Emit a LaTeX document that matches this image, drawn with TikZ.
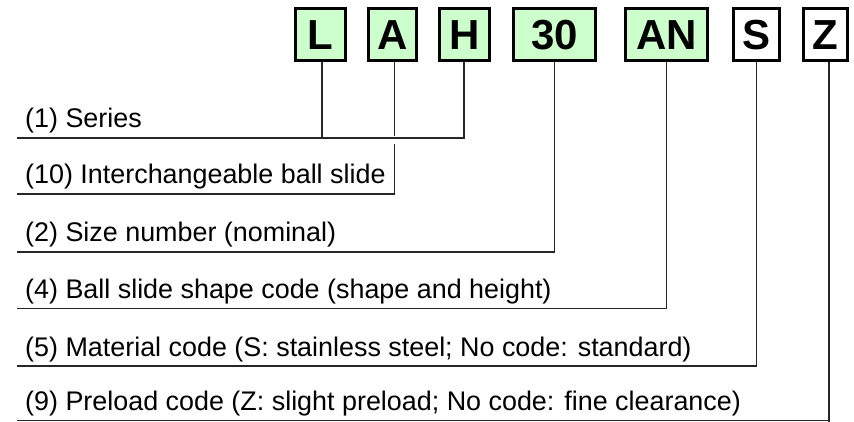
\documentclass[tikz,border=0pt]{standalone}
\usepackage{fontspec}
\setmainfont{Liberation Sans}
\begin{document}
\begin{tikzpicture}[x=1pt,y=-1pt,
  code/.style={draw=black,line width=2.6pt,inner sep=0pt,minimum height=52pt,
    font=\fontsize{42}{42}\selectfont\bfseries,text height=30pt,text depth=0pt},
  gcode/.style={code,fill=green!20},
  wcode/.style={code,fill=white},
  lbl/.style={anchor=base west,inner sep=0pt,font=\fontsize{26.9}{30}\selectfont,text=black},
  ln/.style={draw=black!85,line width=1.4pt}]
\useasboundingbox (0,0) rectangle (854,422);
% code boxes
\node[gcode,minimum width=50.5pt] (L) at (320.5,34.5) {L};
\node[gcode,minimum width=48.5pt] (A) at (392.5,34.5) {A};
\node[gcode,minimum width=50.5pt] (H) at (464.5,34.5) {H};
\node[gcode,minimum width=82.5pt] (N30) at (554.5,34.5) {30};
\node[gcode,minimum width=82.5pt] (AN) at (666.5,34.5) {AN};
\node[wcode,minimum width=46.5pt] (S) at (756.5,34.5) {S};
\node[wcode,minimum width=44.5pt] (Z) at (825.5,34.5) {Z};
% labels
\node[lbl] (t1) at (25,128) {(1) Series};
\node[lbl] (t2) at (25,184) {(10) Interchangeable ball slide};
\node[lbl] (t3) at (25,241.5) {(2) Size number (nominal)};
\node[lbl] (t4) at (25,298.5) {(4) Ball slide shape code (shape and height)};
\node[lbl] (t5) at (25,356) {(5) Material code (S: stainless steel; No code: standard)};
\node[lbl] (t6) at (25,410.5) {(9) Preload code (Z: slight preload; No code: fine clearance)};
% line starts
\coordinate (s1) at (17,138);
\coordinate (s2) at (17,194);
\coordinate (s3) at (17,252);
\coordinate (s4) at (17,308.5);
\coordinate (s5) at (17,366);
\coordinate (s6) at (17,420.5);
\coordinate (a1) at (394.5,136);
\coordinate (a2) at (394.5,144);
\coordinate (zb) at (829,422);
% connectors
\draw[ln] (s1) -| ([xshift=-0.5pt]H.south);
\draw[ln] ([xshift=1.5pt]L.south) -- ([xshift=1.5pt]L.south |- s1);
\draw[ln] ([xshift=2pt]A.south) -- (a1);
\draw[ln] (s2) -| (a2);
\draw[ln] (s3) -| (N30.south);
\draw[ln] (s4) -| (AN.south);
\draw[ln] (s5) -| (S.south);
\draw[ln] (s6) -- (s6 -| zb);
\draw[ln] ([xshift=3.5pt]Z.south) -- (zb);
\end{tikzpicture}
\end{document}
